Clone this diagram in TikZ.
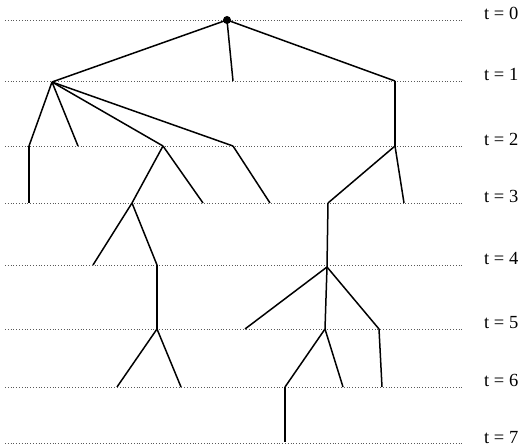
\documentclass[tikz,border=0pt]{standalone}
\usepackage{fontspec}
\setmainfont{Liberation Serif}
\begin{document}
\begin{tikzpicture}[x=1pt,y=-1pt,
  level/.style={draw=gray!70!black, line width=0.6pt, dash pattern=on 0.8pt off 2pt},
  branch/.style={draw=black, line width=1.5pt, line join=round},
  tlabel/.style={anchor=base west, inner sep=0pt, font=\fontsize{18.5}{20}\selectfont}]
\useasboundingbox (0,0) rectangle (525,446);
% time levels
\foreach \t/\y in {0/20,1/81,2/146,3/203,4/265,5/329,6/387,7/443}{
  \coordinate (L\t) at (5,\y);
  \coordinate (R\t) at (462,\y);
  \draw[level] (L\t) -- (R\t);
  \node[tlabel] (lab\t) at (484,\y) {t = \t};
}
% tree vertices
\coordinate (R) at (227,20);
\coordinate (A) at (52,82);
\coordinate (B) at (233,81);
\coordinate (C) at (395,81);
\coordinate (A1) at (29,146);
\coordinate (A2) at (78,146);
\coordinate (A3) at (163,146);
\coordinate (A4) at (233,146);
\coordinate (C1) at (395,146);
\coordinate (A1b) at (29,203);
\coordinate (A3a) at (132,203);
\coordinate (A3b) at (203,203);
\coordinate (A4a) at (270,203);
\coordinate (C1a) at (328,203);
\coordinate (C1b) at (404,203);
\coordinate (D1) at (93,265);
\coordinate (D2) at (157,265);
\coordinate (E) at (327,267);
\coordinate (F) at (157,329);
\coordinate (G1) at (245,329);
\coordinate (G2) at (325,329);
\coordinate (G3) at (379,329);
\coordinate (H1) at (117,387);
\coordinate (H2) at (181,387);
\coordinate (H3) at (285,387);
\coordinate (H4) at (343,387);
\coordinate (H5) at (382,387);
\coordinate (I) at (285,442);
% edges
\draw[branch] (R) -- (A);
\draw[branch] (R) -- (B);
\draw[branch] (R) -- (C);
\draw[branch] (A) -- (A1);
\draw[branch] (A) -- (A2);
\draw[branch] (A) -- (A3);
\draw[branch] (A) -- (A4);
\draw[branch] (C) -- (C1);
\draw[branch] (A1) -- (A1b);
\draw[branch] (A3) -- (A3a);
\draw[branch] (A3) -- (A3b);
\draw[branch] (A4) -- (A4a);
\draw[branch] (C1) -- (C1a);
\draw[branch] (C1) -- (C1b);
\draw[branch] (A3a) -- (D1);
\draw[branch] (A3a) -- (D2);
\draw[branch] (C1a) -- (E);
\draw[branch] (D2) -- (F);
\draw[branch] (E) -- (G1);
\draw[branch] (E) -- (G2);
\draw[branch] (E) -- (G3);
\draw[branch] (F) -- (H1);
\draw[branch] (F) -- (H2);
\draw[branch] (G2) -- (H3);
\draw[branch] (G2) -- (H4);
\draw[branch] (G3) -- (H5);
\draw[branch] (H3) -- (I);
% root dot
\fill[black] (R) circle (4pt);
\end{tikzpicture}
\end{document}
